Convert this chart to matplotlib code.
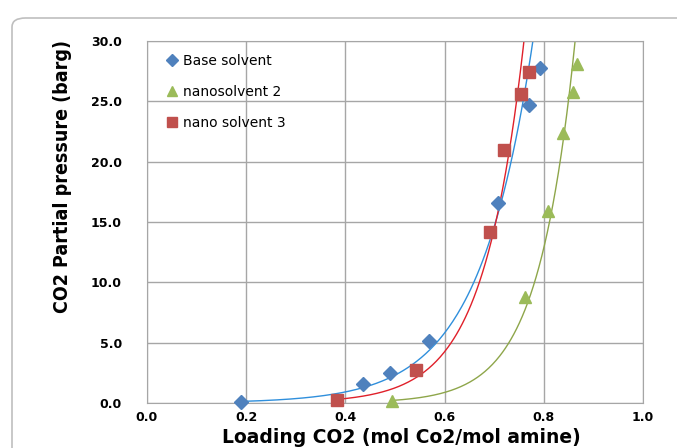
import matplotlib
matplotlib.use('Agg')
import matplotlib.pyplot as plt
from matplotlib.patches import FancyBboxPatch
import numpy as np

# data
base_x = [0.19, 0.436, 0.49, 0.569, 0.708, 0.770, 0.792]
base_y = [0.1, 1.6, 2.5, 5.1, 16.6, 24.7, 27.8]
nano2_x = [0.494, 0.762, 0.808, 0.839, 0.859, 0.867]
nano2_y = [0.2, 8.8, 15.9, 22.4, 25.8, 28.1]
nano3_x = [0.383, 0.542, 0.691, 0.720, 0.754, 0.770]
nano3_y = [0.25, 2.7, 14.2, 21.0, 25.6, 27.4]
labels = ['Base solvent', 'nanosolvent 2', 'nano solvent 3']

fig = plt.figure(figsize=(6.77, 4.48), dpi=100)
fig.patches.append(FancyBboxPatch((12 / 677, -0.2), 1.2, 1.2 - 18 / 448 + 0.0,
                                  boxstyle='round,pad=0,rounding_size=0.02',
                                  transform=fig.transFigure, fill=False,
                                  edgecolor='#bfbfbf', linewidth=1.2))
ax = fig.add_axes([147 / 677, 45 / 448, 496 / 677, 362 / 448])


def exp_trend(x, y):
    b, a = np.polyfit(x, np.log(y), 1)
    xs = np.linspace(min(x), max(x), 200)
    return xs, np.exp(a) * np.exp(b * xs)


series = [
    (base_x, base_y, 'D', '#4F81BD', '#2f8fdc', 7),
    (nano2_x, nano2_y, '^', '#9BBB59', '#8ea64a', 9),
    (nano3_x, nano3_y, 's', '#C0504D', '#e0202a', 9),
]
for (x, y, m, c, lc, ms), lab in zip(series, labels):
    xs, ys = exp_trend(x, y)
    ax.plot(xs, ys, color=lc, lw=1.0, zorder=2)
    ax.plot(x, y, m, color=c, ms=ms, mec=c, label=lab, zorder=3, clip_on=False)

ax.set_xlim(0, 1.0)
ax.set_ylim(0, 30)
ax.set_xticks(np.arange(0, 1.01, 0.2))
ax.set_yticks(np.arange(0, 30.1, 5))
ax.set_xticklabels(['%.1f' % v for v in np.arange(0, 1.01, 0.2)])
ax.set_yticklabels(['%.1f' % v for v in np.arange(0, 30.1, 5)])
ax.grid(True, color='#a6a6a6', lw=1.0)
ax.set_axisbelow(True)
for s in ax.spines.values():
    s.set_color('#a6a6a6')
ax.tick_params(length=0, labelsize=9, pad=6)
for t in ax.get_xticklabels() + ax.get_yticklabels():
    t.set_fontweight('bold')
ax.tick_params(axis='y', pad=18)

ax.set_xlabel('Loading CO2 (mol Co2/mol amine)', fontsize=13.5, fontweight='bold')
ax.xaxis.set_label_coords(0.512, -0.07)
ax.set_ylabel('CO2 Partial pressure (barg)', fontsize=14, fontweight='bold',
              family='DejaVu Sans', fontstretch='condensed')
ax.yaxis.set_label_coords(-0.152, 0.627)

leg = ax.legend(loc='upper left', bbox_to_anchor=(0.012, 0.998), frameon=False,
                fontsize=10, labelspacing=1.2, handletextpad=0.25,
                handlelength=1.0, markerscale=0.85)

fig.savefig('out.png', dpi=100)
